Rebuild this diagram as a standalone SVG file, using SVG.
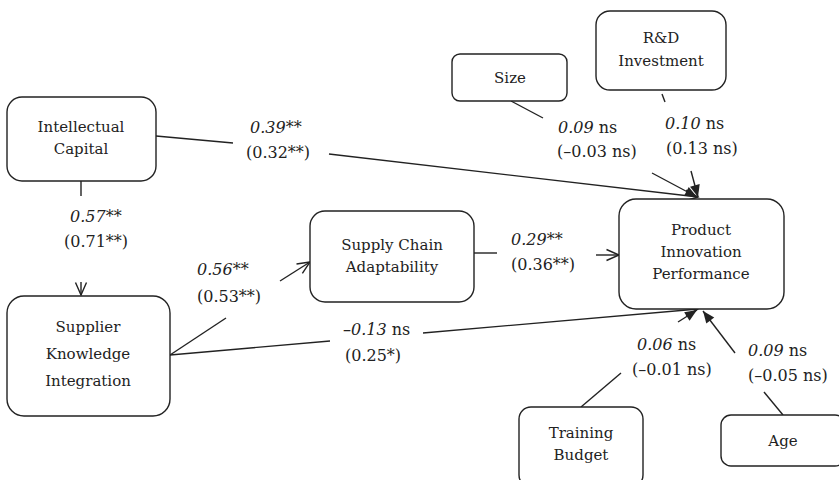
<svg xmlns="http://www.w3.org/2000/svg" width="839" height="480" viewBox="0 0 839 480">
<style>
.box{fill:#fff;stroke:#222;stroke-width:1.4}
text{font-family:'DejaVu Serif','Liberation Serif',serif;font-size:16px;fill:#222}
.c{text-anchor:middle;font-size:15px}
.i{font-style:italic}
.ln{stroke:#222;stroke-width:1.4;fill:none}
</style>
<defs>
<marker id="open" markerUnits="userSpaceOnUse" markerWidth="16" markerHeight="14" refX="13" refY="6" orient="auto" overflow="visible">
<path d="M0.5,0.5 L13,6 L0.5,11.5" fill="none" stroke="#222" stroke-width="1.4"/>
</marker>
<marker id="fill" markerUnits="userSpaceOnUse" markerWidth="14" markerHeight="12" refX="12" refY="5" orient="auto" overflow="visible">
<path d="M0,0 L12,5 L0,10 z" fill="#222"/>
</marker>
</defs>
<rect width="839" height="480" fill="#fff"/>
<g id="connectors">
<line class="ln" x1="156" y1="136" x2="233" y2="143"/>
<line class="ln" x1="329" y1="154" x2="698" y2="197" marker-end="url(#open)"/>
<line class="ln" x1="81" y1="181" x2="81" y2="196"/>
<line class="ln" x1="81" y1="282" x2="81" y2="295" marker-end="url(#open)"/>
<line class="ln" x1="170" y1="355" x2="226" y2="318"/>
<line class="ln" x1="280" y1="281" x2="310" y2="262" marker-end="url(#open)"/>
<line class="ln" x1="474" y1="253" x2="497" y2="253"/>
<line class="ln" x1="596" y1="255" x2="619" y2="255" marker-end="url(#open)"/>
<line class="ln" x1="170" y1="355" x2="330" y2="341"/>
<line class="ln" x1="423" y1="333" x2="698" y2="309" marker-end="url(#open)"/>
<line class="ln" x1="511" y1="101" x2="543" y2="118"/>
<line class="ln" x1="652" y1="173" x2="697" y2="197" marker-end="url(#fill)"/>
<line class="ln" x1="662" y1="94" x2="665" y2="102"/>
<line class="ln" x1="691" y1="171" x2="698" y2="197" marker-end="url(#fill)"/>
<line class="ln" x1="581" y1="407" x2="621" y2="373"/>
<line class="ln" x1="678" y1="322" x2="697" y2="310" marker-end="url(#fill)"/>
<line class="ln" x1="783" y1="415" x2="764" y2="392"/>
<line class="ln" x1="735" y1="353" x2="703" y2="311" marker-end="url(#fill)"/>
</g>
<g id="labels">
<text x="250" y="133" class="i">0.39**</text>
<text x="246" y="158">(0.32**)</text>
<text x="70" y="222" class="i">0.57**</text>
<text x="64" y="247">(0.71**)</text>
<text x="197" y="275" class="i">0.56**</text>
<text x="197" y="302">(0.53**)</text>
<text x="511" y="245" class="i">0.29**</text>
<text x="511" y="270">(0.36**)</text>
<text x="343" y="335"><tspan class="i">–0.13</tspan> ns</text>
<text x="345" y="361">(0.25*)</text>
<text x="558" y="133"><tspan class="i">0.09</tspan> ns</text>
<text x="557" y="157">(–0.03 ns)</text>
<text x="665" y="129"><tspan class="i">0.10</tspan> ns</text>
<text x="666" y="154">(0.13 ns)</text>
<text x="637" y="350"><tspan class="i">0.06</tspan> ns</text>
<text x="632" y="375">(–0.01 ns)</text>
<text x="748" y="356"><tspan class="i">0.09</tspan> ns</text>
<text x="748" y="381">(–0.05 ns)</text>
</g>
<g id="ic">
<rect class="box" x="7" y="97" width="149" height="84" rx="15"/>
<text class="c" x="81" y="132">Intellectual</text>
<text class="c" x="81" y="154">Capital</text>
</g>
<g id="ski">
<rect class="box" x="7" y="296" width="163" height="120" rx="17"/>
<text class="c" x="88" y="332">Supplier</text>
<text class="c" x="88" y="359">Knowledge</text>
<text class="c" x="88" y="386">Integration</text>
</g>
<g id="sca">
<rect class="box" x="310" y="211" width="164" height="91" rx="15"/>
<text class="c" x="392" y="250">Supply Chain</text>
<text class="c" x="392" y="272">Adaptability</text>
</g>
<g id="pip">
<rect class="box" x="619" y="199" width="165" height="110" rx="17"/>
<text class="c" x="701" y="235">Product</text>
<text class="c" x="701" y="257">Innovation</text>
<text class="c" x="701" y="279">Performance</text>
</g>
<g id="size">
<rect class="box" x="452" y="54" width="115" height="47" rx="8"/>
<text class="c" x="510" y="83">Size</text>
</g>
<g id="rd">
<rect class="box" x="596" y="11" width="130" height="79" rx="14"/>
<text class="c" x="661" y="43">R&amp;D</text>
<text class="c" x="661" y="66">Investment</text>
</g>
<g id="tb">
<rect class="box" x="519" y="407" width="124" height="80" rx="12"/>
<text class="c" x="581" y="438">Training</text>
<text class="c" x="581" y="460">Budget</text>
</g>
<g id="age">
<rect class="box" x="721" y="415" width="124" height="51" rx="10"/>
<text class="c" x="783" y="446">Age</text>
</g>
</svg>
